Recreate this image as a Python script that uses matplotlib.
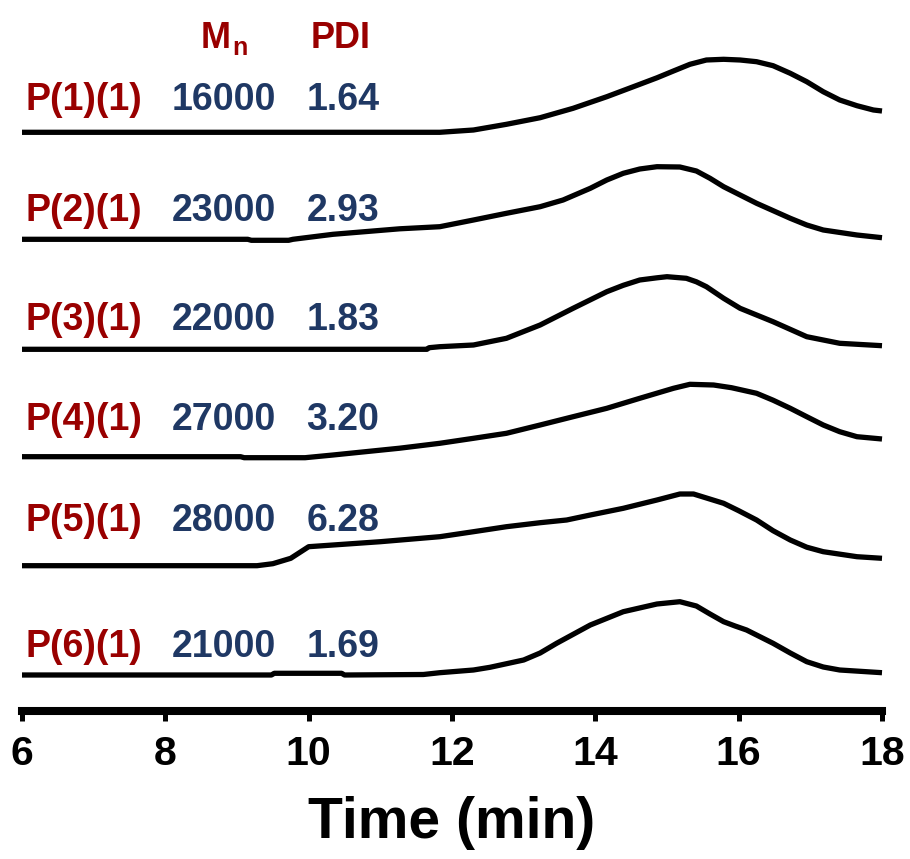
import matplotlib
matplotlib.use("Agg")
import matplotlib.pyplot as plt

plt.rcParams['font.family'] = ['Liberation Sans', 'DejaVu Sans']
plt.rcParams['font.weight'] = 'bold'

# ---------------- data ----------------
sample_names = ["P(1)(1)", "P(2)(1)", "P(3)(1)", "P(4)(1)", "P(5)(1)", "P(6)(1)"]
mn_values = ["16000", "23000", "22000", "27000", "28000", "21000"]
pdi_values = ["1.64", "2.93", "1.83", "3.20", "6.28", "1.69"]
header_mn = "M"
header_mn_sub = "n"
header_pdi = "PDI"
x_label = "Time (min)"
x_ticks = [6, 8, 10, 12, 14, 16, 18]

t1 = [6.0, 11.83, 12.30, 12.76, 13.23, 13.69, 14.16, 14.62, 14.86, 15.09, 15.32, 15.55, 15.79,
      16.02, 16.25, 16.48, 16.72, 16.95, 17.18, 17.41, 17.65, 17.88, 18.0]
s1 = [0, 0, 2.3, 8, 14.6, 24, 35.6, 48, 54.5, 61.3, 68, 72.3, 73,
      72.3, 70.6, 66.6, 59, 50.6, 40.6, 32.3, 26.6, 22.3, 21.3]

t2 = [6.0, 9.15, 9.2, 9.72, 9.78, 10.34, 11.27, 11.83, 12.30, 12.76, 13.23, 13.55, 13.93, 14.16,
      14.39, 14.62, 14.86, 15.18, 15.41, 15.6, 15.79, 16.25, 16.72, 16.95, 17.18, 17.65, 18.0]
s2 = [0, 0, -1, -1, 0, 5, 10.5, 12.6, 19.3, 26, 32.6, 39.3, 51, 59.3,
      66, 70.3, 72.6, 72.3, 68.3, 61, 52.6, 36, 21, 14.3, 9.3, 4.3, 1.6]

t3 = [6.0, 11.65, 11.68, 11.83, 12.30, 12.76, 13.23, 13.69, 14.16, 14.39, 14.62, 14.86, 15.0,
      15.27, 15.41, 15.55, 15.79, 16.02, 16.48, 16.95, 17.41, 18.0]
s3 = [0, 0, 1.6, 2.6, 4.3, 11, 24.3, 41, 57.6, 64, 69.3, 71.5, 72.6,
      71, 67.5, 62.6, 51, 41, 27.6, 12.6, 6, 3.6]

t4 = [6.0, 9.05, 9.1, 9.95, 10.34, 11.27, 11.83, 12.30, 12.76, 13.23, 13.69, 14.16, 14.62, 15.09,
      15.32, 15.65, 15.9, 16.25, 16.48, 16.72, 16.95, 17.18, 17.41, 17.65, 18.0]
s4 = [0, 0, -1, -1, 1.7, 8.5, 13.4, 18.4, 23.4, 31.7, 40, 48.4, 58.4, 68.4,
      72.4, 71.7, 69, 63.4, 56.5, 48.4, 40, 31.7, 25, 20, 17.7]

t5 = [6.0, 9.28, 9.5, 9.75, 10.0, 10.1, 11.0, 11.83, 12.30, 12.76, 13.23, 13.6, 13.93, 14.39,
      14.86, 15.18, 15.37, 15.79, 16.0, 16.25, 16.48, 16.72, 16.95, 17.18, 17.65, 18.0]
s5 = [0, 0, 2, 7.4, 19, 19.5, 24, 29, 34, 39, 43, 45.7, 50.7, 57.4,
      65.7, 71.7, 71.7, 62.4, 55, 45.7, 35, 25.7, 18.5, 14, 9, 7.4]

t6 = [6.0, 9.48, 9.52, 10.46, 10.5, 11.6, 11.83, 12.30, 12.53, 13.0, 13.23, 13.46, 13.93, 14.39,
      14.86, 15.18, 15.41, 15.6, 15.79, 15.95, 16.11, 16.48, 16.72, 16.95, 17.18, 17.41, 18.0]
s6 = [0, 0, 1.7, 1.7, 0, 0.5, 2.3, 5, 7.7, 15, 22, 31.7, 50, 63.3,
      71, 73.3, 69, 61, 53.3, 49, 45, 31.7, 22, 13.3, 8, 5, 2.3]

times = [t1, t2, t3, t4, t5, t6]
signals = [s1, s2, s3, s4, s5, s6]

# ---------------- layout (pixel-like y units) ----------------
W, H = 910, 859
spine_px = 711
offsets = [spine_px - b for b in (132.3, 239.3, 349.3, 456.7, 565.7, 675.0)]
text_base = [spine_px - b for b in (110, 221, 330, 430, 531, 657)]
header_base = spine_px - 48

red = '#990000'
blue = '#1F3864'

fig = plt.figure(figsize=(W / 100, H / 100), dpi=100)
ax = fig.add_axes([22 / W, (H - spine_px) / H, 860 / W, spine_px / H])
ax.set_xlim(6, 18)
ax.set_ylim(0, spine_px)

for t, s, off in zip(times, signals, offsets):
    ax.plot(t, [v + off for v in s], color='black', lw=3.8, solid_joinstyle='round',
            solid_capstyle='butt', clip_on=False)

fs = 27
for name, mn, pdi, yb in zip(sample_names, mn_values, pdi_values, text_base):
    ax.text(6.05, yb, name, color=red, fontsize=fs, fontweight='bold', va='baseline', ha='left')
    ax.text(8.09, yb, mn, color=blue, fontsize=fs, fontweight='bold', va='baseline', ha='left')
    ax.text(9.97, yb, pdi, color=blue, fontsize=fs, fontweight='bold', va='baseline', ha='left')

ax.text(8.49, header_base, header_mn, color=red, fontsize=26, fontweight='bold', va='baseline', ha='left')
ax.text(8.94, header_base - 7, header_mn_sub, color=red, fontsize=18, fontweight='bold', va='baseline', ha='left')
ax.text(10.03, header_base, header_pdi, color=red, fontsize=26, fontweight='bold', va='baseline', ha='left')

for sp in ('left', 'right', 'top'):
    ax.spines[sp].set_visible(False)
ax.spines['bottom'].set_linewidth(5.8)
ax.set_yticks([])
ax.set_xticks(x_ticks)
ax.set_xticklabels([str(v) for v in x_ticks])
ax.tick_params(axis='x', length=7, width=3.6, pad=10, labelsize=29.5, color='black')
for lab in ax.get_xticklabels():
    lab.set_fontweight('bold')
ax.set_xlabel(x_label, fontsize=41, fontweight='bold', labelpad=17)

fig.savefig('out.png', dpi=100)
